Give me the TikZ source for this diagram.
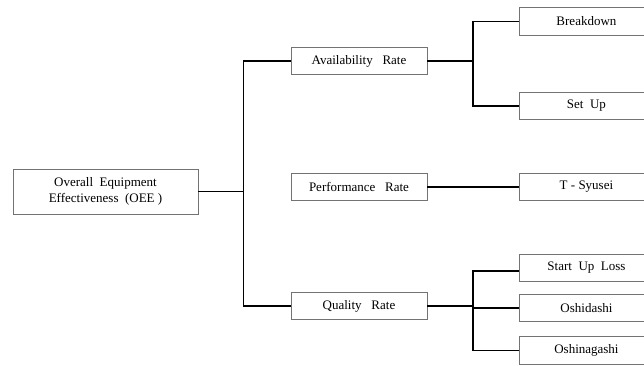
\documentclass[tikz,border=0pt]{standalone}
\usepackage{fontspec}
\setmainfont{Liberation Serif}
\begin{document}
\begin{tikzpicture}[x=1pt,y=-1pt,
  box/.style={draw=black!55,line width=0.9pt,fill=white,inner sep=0pt,font=\fontsize{13}{15.5}\selectfont,align=center},
  ratebox/.style={box,minimum width=136pt,minimum height=27pt},
  leafbox/.style={box,minimum width=134pt,minimum height=27.5pt},
  conn/.style={draw=black,line width=1.3pt}]
\useasboundingbox (0,0) rectangle (644,365);
\node[box,minimum width=185pt,minimum height=45pt] (oee) at (105.5,191.5) {Overall\ \ Equipment\\Effectiveness\ \ (OEE\ )};
\node[ratebox] (av) at (359,61) {Availability\ \ \ Rate};
\node[ratebox] (pf) at (359,187) {Performance\ \ \ Rate};
\node[ratebox] (ql) at (359,306) {Quality\ \ \ Rate};
% leaf boxes: left edge at 519, extend past right edge
\node[leafbox,anchor=west] (bd) at (519,21.5) {Breakdown};
\node[leafbox,anchor=west] (su) at (519,106) {Set\ \ Up};
\node[leafbox,anchor=west] (ts) at (519,187) {T - Syusei};
\node[leafbox,anchor=west] (sl) at (519,268) {Start\ \ Up\ \ Loss};
\node[leafbox,anchor=west] (os) at (519,308) {Oshidashi};
\node[leafbox,anchor=west] (on) at (519,350.5) {Oshinagashi};
\coordinate (mainx) at (243.5,0);
\coordinate (avx) at (473,0);
\coordinate (qlx) at (473,0);
\draw[conn] (oee.east) -- (oee.east -| mainx);
\draw[conn] (av.west) -- (av.west -| mainx) -- (ql.west -| mainx) -- (ql.west);
\draw[conn] (pf.east) -- (ts.west);
\draw[conn] (av.east) -- (av.east -| avx);
\draw[conn] (bd.west) -- (bd.west -| avx) -- (su.west -| avx) -- (su.west);
\draw[conn] (ql.east) -- (ql.east -| qlx);
\draw[conn] ([yshift=-3pt]sl.west) -- ([yshift=-3pt]sl.west -| qlx) -- (on.west -| qlx) -- (on.west);
\draw[conn] (os.west -| qlx) -- (os.west);
\end{tikzpicture}
\end{document}
